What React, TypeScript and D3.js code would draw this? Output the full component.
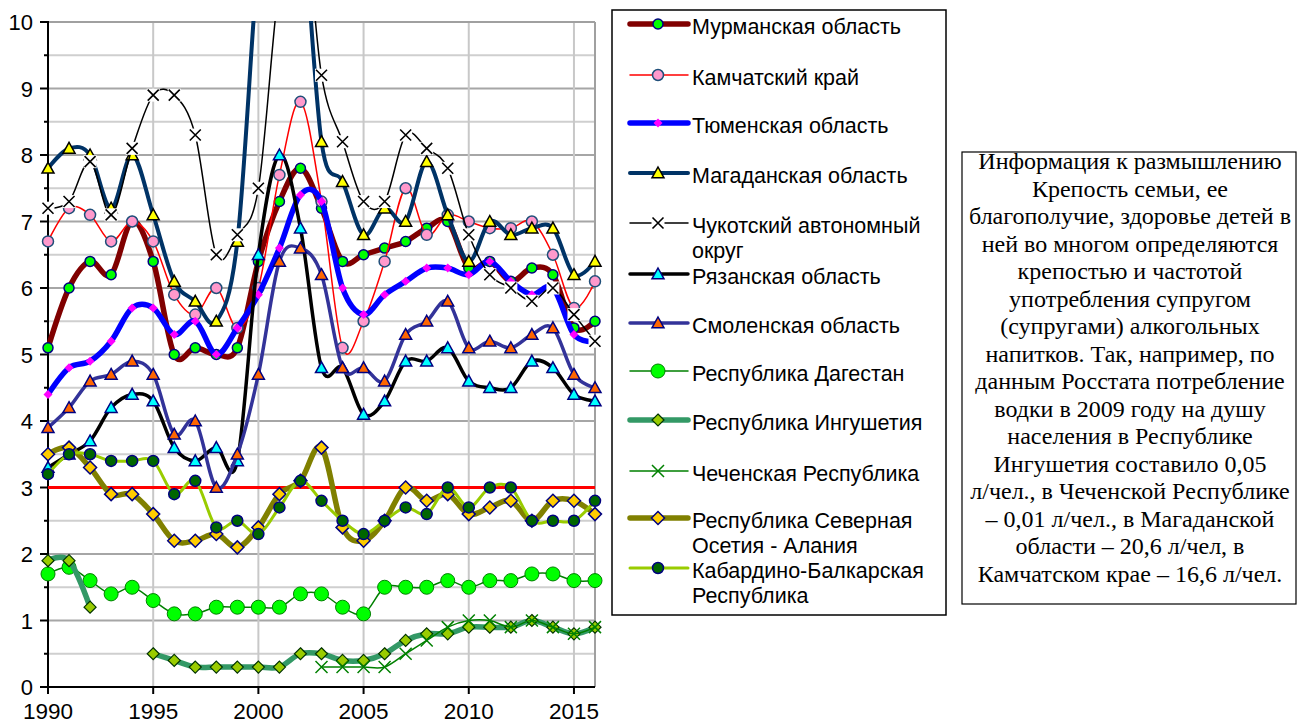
import React from "react";
import * as d3 from "d3";

const years: number[] = d3.range(1990, 2017);
type V = number | null;

const murmansk: V[] = [5.1, 6.0, 6.4, 6.2, 7.0, 6.4, 5.0, 5.1, 5.0, 5.1, 6.4, 7.3, 7.8, 7.2, 6.4, 6.5, 6.6, 6.7, 6.9, 7.0, 6.3, 6.4, 6.1, 6.3, 6.2, 5.4, 5.5];
const kamchatka: V[] = [6.7, 7.2, 7.1, 6.7, 7.0, 6.7, 5.9, 5.6, 6.0, 5.4, 6.0, 7.7, 8.8, 7.3, 5.1, 5.5, 6.4, 7.5, 6.8, 7.1, 7.0, 6.9, 6.9, 7.0, 6.5, 5.7, 6.1];
const tyumen: V[] = [4.4, 4.8, 4.9, 5.2, 5.7, 5.7, 5.3, 5.5, 5.0, 5.4, 5.9, 6.6, 7.4, 7.3, 6.0, 5.6, 5.9, 6.1, 6.3, 6.3, 6.2, 6.4, 6.1, 5.9, 6.0, 5.3, 5.2];
const magadan: V[] = [7.8, 8.1, 8.0, 7.2, 8.0, 7.1, 6.1, 5.8, 5.5, 6.7, 11.0, 14.0, 12.0, 8.2, 7.6, 6.8, 7.2, 7.0, 7.9, 7.1, 6.4, 7.0, 6.8, 6.9, 6.9, 6.2, 6.4];
const chukotka: V[] = [7.2, 7.3, 7.9, 7.1, 8.1, 8.9, 8.9, 8.3, 6.5, 6.8, 7.5, 10.6, 12.0, 9.2, 8.2, 7.3, 7.3, 8.3, 8.1, 7.8, 6.8, 6.2, 6.0, 5.8, 6.0, 5.6, 5.2];
const ryazan: V[] = [3.3, 3.5, 3.7, 4.2, 4.4, 4.3, 3.6, 3.4, 3.6, 3.4, 6.5, 8.0, 6.9, 4.8, 4.8, 4.1, 4.3, 4.9, 4.9, 5.1, 4.6, 4.5, 4.5, 4.9, 4.8, 4.4, 4.3];
const smolensk: V[] = [3.9, 4.2, 4.6, 4.7, 4.9, 4.7, 3.8, 4.0, 3.0, 3.5, 4.7, 6.4, 6.6, 6.2, 4.8, 4.8, 4.6, 5.3, 5.5, 5.8, 5.1, 5.2, 5.1, 5.3, 5.4, 4.7, 4.5];
const dagestan: V[] = [1.7, 1.8, 1.6, 1.4, 1.5, 1.3, 1.1, 1.1, 1.2, 1.2, 1.2, 1.2, 1.4, 1.4, 1.2, 1.1, 1.5, 1.5, 1.5, 1.6, 1.5, 1.6, 1.6, 1.7, 1.7, 1.6, 1.6];
const ingushetia: V[] = [1.9, 1.9, 1.2, null, null, 0.5, 0.4, 0.3, 0.3, 0.3, 0.3, 0.3, 0.5, 0.5, 0.4, 0.4, 0.5, 0.7, 0.8, 0.8, 0.9, 0.9, 0.9, 1.0, 0.9, 0.8, 0.9];
const chechnya: V[] = [null, null, null, null, null, null, null, null, null, null, null, null, null, 0.3, 0.3, 0.3, 0.3, 0.5, 0.7, 0.9, 1.0, 1.0, 0.9, 1.0, 0.9, 0.8, 0.9];
const ossetia: V[] = [3.5, 3.6, 3.3, 2.9, 2.9, 2.6, 2.2, 2.2, 2.3, 2.1, 2.4, 2.9, 3.1, 3.6, 2.4, 2.2, 2.5, 3.0, 2.8, 2.9, 2.6, 2.7, 2.8, 2.5, 2.8, 2.8, 2.6];
const kabardino: V[] = [3.2, 3.5, 3.5, 3.4, 3.4, 3.4, 2.9, 3.1, 2.4, 2.5, 2.3, 2.7, 3.1, 2.8, 2.5, 2.3, 2.5, 2.7, 2.6, 3.0, 2.7, 3.0, 3.0, 2.5, 2.5, 2.5, 2.8];
const thresholdValue = 3;

const seriesNames: string[][] = [
  ["Мурманская область"],
  ["Камчатский край"],
  ["Тюменская область"],
  ["Магаданская область"],
  ["Чукотский автономный", "округ"],
  ["Рязанская область"],
  ["Смоленская область"],
  ["Республика Дагестан"],
  ["Республика Ингушетия"],
  ["Чеченская Республика"],
  ["Республика Северная", "Осетия - Алания"],
  ["Кабардино-Балкарская", "Республика"],
];

const yTicks: number[] = d3.range(0, 11);
const xTicks: number[] = [1990, 1995, 2000, 2005, 2010, 2015];

const noteLines: string[] = [
  "Информация к размышлению",
  "Крепость семьи, ее",
  "благополучие, здоровье детей в",
  "ней во многом определяются",
  "крепостью и частотой",
  "употребления супругом",
  "(супругами) алкогольных",
  "напитков. Так, например, по",
  "данным Росстата потребление",
  "водки в 2009 году на душу",
  "населения в Республике",
  "Ингушетия составило 0,05",
  "л/чел., в Чеченской Республике",
  "– 0,01 л/чел., в Магаданской",
  "области – 20,6 л/чел, в",
  "Камчатском крае – 16,6 л/чел.",
];

type MarkerType = "circle" | "triangle" | "diamond" | "x";
interface Style {
  data: V[];
  stroke: string;
  width: number;
  marker: MarkerType;
  fill: string;
  mstroke: string;
  size: number;
  msw: number;
  whiteBg?: boolean;
}

const styles: Style[] = [
  { data: murmansk, stroke: "#800000", width: 5.5, marker: "circle", fill: "#00ff00", mstroke: "#000080", size: 5, msw: 1.5 },
  { data: kamchatka, stroke: "#ff0000", width: 1.5, marker: "circle", fill: "#ff99cc", mstroke: "#1f4e79", size: 5.5, msw: 1.5 },
  { data: tyumen, stroke: "#0000ff", width: 5.5, marker: "diamond", fill: "#ff00ff", mstroke: "none", size: 4.5, msw: 0 },
  { data: magadan, stroke: "#003366", width: 4, marker: "triangle", fill: "#ffff00", mstroke: "#000000", size: 6, msw: 1.5 },
  { data: chukotka, stroke: "#000000", width: 1.5, marker: "x", fill: "none", mstroke: "#000000", size: 5.5, msw: 1.6, whiteBg: true },
  { data: ryazan, stroke: "#000000", width: 3.5, marker: "triangle", fill: "#00ffff", mstroke: "#000080", size: 6, msw: 1.5 },
  { data: smolensk, stroke: "#333399", width: 3.5, marker: "triangle", fill: "#ff6600", mstroke: "#000080", size: 6, msw: 1.5 },
  { data: dagestan, stroke: "#008000", width: 1.5, marker: "circle", fill: "#00ff00", mstroke: "#008000", size: 7, msw: 1 },
  { data: ingushetia, stroke: "#339966", width: 5.5, marker: "diamond", fill: "#99cc00", mstroke: "#003300", size: 6, msw: 1.2 },
  { data: chechnya, stroke: "#008000", width: 1.5, marker: "x", fill: "none", mstroke: "#008000", size: 6, msw: 1.5 },
  { data: ossetia, stroke: "#808000", width: 5.5, marker: "diamond", fill: "#ffcc00", mstroke: "#000080", size: 6.5, msw: 1.5 },
  { data: kabardino, stroke: "#99cc00", width: 3, marker: "circle", fill: "#006600", mstroke: "#000080", size: 5.5, msw: 1.5 },
];

const legendY: number[] = [24, 75, 123, 173, 223, 274, 323, 371, 420, 471, 518, 568];

const W = 1297;
const H = 724;
const x = d3.scaleLinear().domain([1990, 2016]).range([48, 595]);
const y = d3.scaleLinear().domain([0, 10]).range([687, 22]);

const SANS = "Arial, 'Liberation Sans', sans-serif";
const SERIF = "'Times New Roman', 'Liberation Serif', serif";

function Marker({ s, cx, cy }: { s: Style; cx: number; cy: number }) {
  const r = s.size;
  if (s.marker === "circle") {
    return <circle cx={cx} cy={cy} r={r} fill={s.fill} stroke={s.mstroke} strokeWidth={s.msw} />;
  }
  if (s.marker === "triangle") {
    const p = `M${cx},${cy - r} L${cx + r},${cy + r * 0.8} L${cx - r},${cy + r * 0.8} Z`;
    return <path d={p} fill={s.fill} stroke={s.mstroke} strokeWidth={s.msw} strokeLinejoin="miter" />;
  }
  if (s.marker === "diamond") {
    const p = `M${cx},${cy - r} L${cx + r},${cy} L${cx},${cy + r} L${cx - r},${cy} Z`;
    return <path d={p} fill={s.fill} stroke={s.mstroke} strokeWidth={s.msw} />;
  }
  return (
    <g>
      {s.whiteBg && <rect x={cx - r - 1} y={cy - r - 1} width={2 * r + 2} height={2 * r + 2} fill="#fff" />}
      <path d={`M${cx - r},${cy - r} L${cx + r},${cy + r} M${cx + r},${cy - r} L${cx - r},${cy + r}`} stroke={s.mstroke} strokeWidth={s.msw} fill="none" />
    </g>
  );
}

export default function App() {
  const line = d3
    .line<V>()
    .defined((d) => d != null)
    .x((_, i) => x(years[i]))
    .y((d) => y(d as number))
    .curve(d3.curveCatmullRom.alpha(0));

  const halfTicks = d3.range(0, 10.01, 0.5);

  return (
    <svg width={W} height={H} style={{ position: "absolute", left: 0, top: 0, background: "#fff" }} xmlns="http://www.w3.org/2000/svg">
      <defs>
        <clipPath id="plotClip">
          <rect x={0} y={y(10) - 1} width={620} height={700} />
        </clipPath>
      </defs>
      <rect x={0} y={0} width={W} height={H} fill="#fff" />

      {/* grid */}
      {halfTicks.map((t) => (
        <line key={"h" + t} x1={x(1990)} x2={x(2016)} y1={y(t)} y2={y(t)}
          stroke={Number.isInteger(t) ? "#a6a6a6" : "#cfcfcf"} strokeWidth={2} />
      ))}
      {xTicks.filter((t) => t > 1990).map((t) => (
        <line key={"v" + t} x1={x(t)} x2={x(t)} y1={y(0)} y2={y(10)} stroke="#c8c8c8" strokeWidth={2} />
      ))}
      <line x1={x(2016)} x2={x(2016)} y1={y(0)} y2={y(10)} stroke="#a0a0a0" strokeWidth={2} />
      <line x1={x(1990)} x2={x(2016)} y1={y(10)} y2={y(10)} stroke="#a0a0a0" strokeWidth={2} />

      {/* axes */}
      <line x1={x(1990)} x2={x(1990)} y1={y(0) + 1} y2={y(10) - 1} stroke="#000" strokeWidth={2} />
      <line x1={x(1990) - 1} x2={x(2016)} y1={y(0)} y2={y(0)} stroke="#000" strokeWidth={2} />
      {halfTicks.map((t) => (
        <line key={"yt" + t} x1={x(1990) - (Number.isInteger(t) ? 8 : 4)} x2={x(1990)} y1={y(t)} y2={y(t)} stroke="#000" strokeWidth={2} />
      ))}
      {xTicks.map((t) => (
        <line key={"xt" + t} x1={x(t)} x2={x(t)} y1={y(0)} y2={y(0) + 7} stroke="#000" strokeWidth={2} />
      ))}
      {yTicks.map((t) => (
        <text key={"yl" + t} x={33} y={y(t) + 8} textAnchor="end" fontFamily={SANS} fontSize={22} fill="#000">{t}</text>
      ))}
      {xTicks.map((t) => (
        <text key={"xl" + t} x={x(t)} y={719} textAnchor="middle" fontFamily={SANS} fontSize={22.5} fill="#000">{t}</text>
      ))}

      {/* threshold */}
      <line x1={x(1990)} x2={x(2016)} y1={y(thresholdValue)} y2={y(thresholdValue)} stroke="#ff0000" strokeWidth={3} />

      {/* series */}
      <g clipPath="url(#plotClip)">
        {styles.map((s, si) => (
          <g key={"s" + si}>
            <path d={line(s.data) || ""} fill="none" stroke={s.stroke} strokeWidth={s.width} strokeLinejoin="round" strokeLinecap="round" />
            {s.data.map((v, i) =>
              v != null && v <= 10 ? <Marker key={i} s={s} cx={x(years[i])} cy={y(v)} /> : null
            )}
          </g>
        ))}
      </g>

      {/* legend */}
      <rect x={612} y={10} width={334} height={605} fill="#fff" stroke="#000" strokeWidth={1.5} />
      {styles.map((s, si) => {
        const ly = legendY[si];
        return (
          <g key={"l" + si}>
            <line x1={630} x2={688} y1={ly} y2={ly} stroke={s.stroke} strokeWidth={s.width} strokeLinecap="round" />
            <Marker s={s} cx={658} cy={ly} />
            {seriesNames[si].map((t, k) => (
              <text key={k} x={692} y={ly + 10 + k * 25} fontFamily={SANS} fontSize={21.5} fill="#000">{t}</text>
            ))}
          </g>
        );
      })}

      {/* note box */}
      <rect x={962} y={152} width={334} height={452} fill="#fff" stroke="#000" strokeWidth={1.2} />
      {noteLines.map((t, i) => (
        <text key={"n" + i} x={1130} y={169 + i * 27.5} textAnchor="middle" fontFamily={SERIF} fontSize={24} fill="#000">{t}</text>
      ))}
    </svg>
  );
}
